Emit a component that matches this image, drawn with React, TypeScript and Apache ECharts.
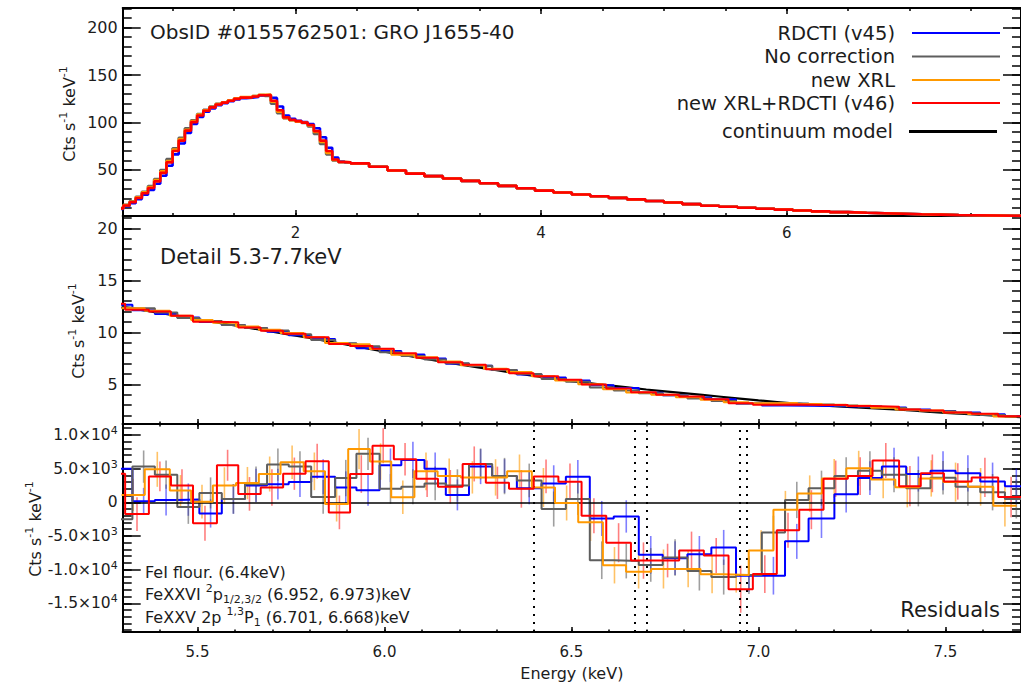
import React, { useEffect, useRef } from 'react';
import * as echarts from 'echarts';

// ---------------- tick labels ----------------
const topXTicks = [2, 4, 6];
const topXLabels = ['2', '4', '6'];
const detailXTicks = [5.5, 6.0, 6.5, 7.0, 7.5];
const detailXLabels = ['5.5', '6.0', '6.5', '7.0', '7.5'];
const topYTicks = [50, 100, 150, 200];
const topYLabels = ['50', '100', '150', '200'];
const midYTicks = [5, 10, 15, 20];
const midYLabels = ['5', '10', '15', '20'];
const resYTicks = [10000, 5000, 0, -5000, -10000, -15000];
const resYMantissa = ['1.0', '5.0', '0', '-5.0', '-1.0', '-1.5'];
const resYExponent = ['4', '3', '', '3', '4', '4'];

// ---------------- full band spectrum (top panel) ----------------
const topEdges = [
  0.55, 0.60, 0.65, 0.70, 0.75, 0.80, 0.85, 0.90, 0.95, 1.00, 1.05, 1.10, 1.15, 1.20, 1.25, 1.30,
  1.35, 1.40, 1.45, 1.50, 1.55, 1.60, 1.65, 1.70, 1.75, 1.80, 1.85, 1.90, 1.95, 2.00, 2.05, 2.10,
  2.15, 2.20, 2.25, 2.30, 2.35, 2.40, 2.45,
  2.60, 2.75, 2.90, 3.05, 3.20, 3.35, 3.50, 3.65, 3.80, 3.95, 4.10, 4.25, 4.40, 4.55, 4.70, 4.85,
  5.00, 5.15, 5.30, 5.45, 5.60, 5.75, 5.90, 6.05, 6.20, 6.35, 6.50, 6.65, 6.80, 6.95, 7.10, 7.25,
  7.40, 7.55, 7.70, 7.85, 8.00,
];
const topRiseBlue = [
  9, 11.8, 15, 19.3, 24, 29, 35.5, 44, 54.5, 66.5, 78, 89, 98.5, 106, 111.5, 115, 118.3, 120.5,
  122.5, 124.5, 125.8, 126.3, 127, 128.5, 129, 126, 117, 107.5, 104, 102, 100.5, 98.5, 94, 84.5,
  73.5, 63, 59, 58,
];
const topRiseGray = [
  10, 13.2, 17, 21.8, 27, 33, 40.5, 50, 61.5, 73, 84, 94, 102.5, 109, 113.5, 117, 119.8, 121.5,
  123.5, 125.5, 126.5, 126.8, 128, 129, 128, 120, 110, 104.5, 102.5, 101, 99.5, 96, 88, 77.5,
  66.5, 60, 58.3, 58,
];
const topRiseOrange = [
  9.8, 13, 16.5, 21.2, 26.5, 32, 39.5, 48.5, 59.5, 71.5, 82.5, 92.5, 101.5, 108.5, 113, 116.5,
  119.5, 121.5, 123.5, 125.5, 126.8, 127, 128, 129.3, 129.5, 122, 111.5, 105, 102.5, 101, 99.8,
  97, 90, 79.5, 68, 60.5, 58.5, 58,
];
const topRiseRed = [
  9.5, 12.5, 16, 20.5, 25.5, 31, 38, 47, 58, 70, 81, 91.5, 100.5, 107.5, 112.5, 116, 119, 121,
  123, 125, 126.3, 126.5, 127.5, 128.8, 129, 123, 113, 105.5, 103, 101.5, 100, 97.5, 91, 81, 70,
  61, 58.5, 58,
];
const topTail = [
  57, 53.5, 49.5, 46.2, 43.5, 41, 38.5, 36, 33.3, 30.8, 28.3, 26.2, 24.2, 22.3, 20.6, 19, 17.3,
  15.7, 14, 12.3, 11.2, 10.2, 9.2, 8.2, 7.3, 6.4, 5.6, 4.9, 4.4, 3.9, 3.4, 3.0, 2.6, 2.3, 2.0, 1.7,
  1.4,
];

// ---------------- detail band 5.3-7.7 keV ----------------
const blueEdges = [
  5.266, 5.326, 5.386, 5.446, 5.505, 5.565, 5.627, 5.686, 5.744, 5.804, 5.868, 5.925, 5.987, 6.045,
  6.107, 6.164, 6.226, 6.288, 6.354, 6.420, 6.485, 6.549, 6.613, 6.680, 6.744, 6.810, 6.874, 6.940,
  7.009, 7.071, 7.134, 7.203, 7.266, 7.330, 7.395, 7.460, 7.527, 7.593, 7.659, 7.720,
];
const grayEdges = [
  5.266, 5.326, 5.386, 5.446, 5.505, 5.565, 5.627, 5.686, 5.744, 5.804, 5.868, 5.925, 5.987, 6.045,
  6.107, 6.164, 6.226, 6.288, 6.354, 6.420, 6.485, 6.549, 6.613, 6.680, 6.744, 6.810, 6.874, 6.940,
  7.009, 7.071, 7.134, 7.203, 7.266, 7.330, 7.395, 7.460, 7.527, 7.593, 7.659, 7.720,
];
const orangeEdges = [
  5.297, 5.359, 5.426, 5.483, 5.541, 5.603, 5.664, 5.722, 5.784, 5.841, 5.903, 5.961, 6.018, 6.080,
  6.142, 6.204, 6.266, 6.328, 6.394, 6.456, 6.518, 6.584, 6.646, 6.713, 6.779, 6.845, 6.907, 6.974,
  7.040, 7.104, 7.170, 7.235, 7.301, 7.366, 7.430, 7.494, 7.560, 7.628, 7.690,
];
const redEdges = [
  5.247, 5.3065, 5.370, 5.429, 5.488, 5.552, 5.609, 5.669, 5.729, 5.789, 5.851, 5.908, 5.968, 6.025,
  6.085, 6.143, 6.209, 6.271, 6.333, 6.399, 6.465, 6.527, 6.593, 6.659, 6.726, 6.788, 6.854, 6.920,
  6.985, 7.049, 7.109, 7.174, 7.239, 7.305, 7.376, 7.434, 7.496, 7.570, 7.641, 7.710,
];

const blueRate = [
  12.65, 12.12, 11.76, 11.41, 10.98, 10.69, 10.40, 10.06, 9.72, 9.35, 8.90, 8.47, 8.19, 7.86, 7.47,
  6.97, 6.78, 6.37, 5.94, 5.64, 5.36, 4.90, 4.64, 4.19, 3.94, 3.73, 3.55, 3.16, 2.95, 2.94, 2.90,
  2.87, 2.83, 2.76, 2.58, 2.44, 2.28, 2.11, 1.95,
];
const grayRate = [
  12.38, 12.30, 11.89, 11.38, 11.09, 10.69, 10.41, 10.16, 9.80, 9.25, 8.95, 8.66, 8.07, 7.72, 7.39,
  7.02, 6.79, 6.37, 5.98, 5.51, 5.25, 4.68, 4.41, 4.14, 3.94, 3.64, 3.39, 3.16, 3.17, 3.15, 3.05,
  2.97, 2.87, 2.71, 2.50, 2.40, 2.21, 2.05, 1.89,
];
const orangeRate = [
  12.32, 12.07, 11.58, 11.18, 10.91, 10.55, 10.24, 9.94, 9.53, 8.97, 8.86, 8.38, 7.84, 7.59, 7.20,
  6.84, 6.50, 6.17, 5.76, 5.37, 5.00, 4.51, 4.22, 3.99, 3.76, 3.51, 3.28, 3.18, 3.19, 3.11, 3.02,
  2.94, 2.75, 2.58, 2.47, 2.29, 2.14, 1.91,
];
const redRate = [
  12.74, 12.16, 11.99, 11.59, 11.02, 10.96, 10.46, 10.14, 9.85, 9.53, 8.88, 8.68, 8.41, 7.99, 7.54,
  7.12, 6.88, 6.44, 6.06, 5.77, 5.43, 4.99, 4.59, 4.23, 4.00, 3.83, 3.57, 3.17, 3.03, 3.06, 3.01,
  3.01, 2.90, 2.84, 2.57, 2.49, 2.29, 2.17, 1.93,
];

const modelE = [
  5.3, 5.4, 5.5, 5.6, 5.7, 5.8, 5.9, 6.0, 6.1, 6.2, 6.3, 6.4, 6.5, 6.6, 6.7, 6.8, 6.9, 7.0, 7.1, 7.2,
  7.3, 7.4, 7.5, 7.6, 7.7,
];
const modelRate = [
  12.45, 11.85, 11.25, 10.65, 10.05, 9.45, 8.8, 8.13, 7.5, 6.9, 6.35, 5.8, 5.3, 4.9, 4.5, 4.15, 3.8,
  3.45, 3.15, 2.9, 2.7, 2.5, 2.25, 2.05, 1.85,
];

const blueRes = [
  5000, 150, 350, 400, -1650, 500, 2500, 2700, 3000, 3800, 2200, 1800, 5500, 6300, 5000, 1100, 5300,
  3900, 2100, 2800, 3800, -2400, -2100, -7800, -8300, -7700, -6700, -10900, -10900, -5800, -2400,
  1200, 3600, 5300, 4200, 4700, 4300, 3100, 2400,
];
const grayRes = [
  -2500, 5300, 4100, -700, 1400, 500, 2700, 5600, 5300, 800, 3600, 7200, 2000, 2300, 2800, 2500,
  5700, 3900, 3250, -1000, 500, -8600, -8700, -9300, -8200, -10200, -11100, -10800, -4500, 350, 2100,
  3900, 4700, 4100, 2100, 3650, 2300, 1500, 500,
];
const orangeRes = [
  1100, 4900, 1750, 100, 2500, 2850, 4200, 5950, 4600, -250, 7900, 6050, 750, 4600, 3900, 3700, 3700,
  4600, 2200, -100, -2950, -9350, -10300, -9900, -9900, -10700, -10800, -7150, -1100, 1300, 3550,
  5050, 3400, 2250, 3550, 3000, 2300, -500,
];
const redRes = [
  4250, -1750, 3850, 2500, -3100, 5500, 1250, 2200, 4250, 6100, -1500, 4200, 8400, 6400, 3500, 2300,
  5700, 2900, 2000, 3850, 3050, -2000, -6000, -8650, -8650, -7150, -7900, -12900, -10650, -4150,
  -1100, 3500, 3900, 6200, 2400, 4300, 3100, 3700, 800,
];

const blueErr = [
  2100, 2000, 2300, 2400, 2100, 2200, 2500, 2300, 2200, 2600, 2400, 2300, 2500, 2700, 2400, 2300,
  2600, 2500, 2400, 2700, 2500, 2600, 2400, 2800, 2500, 2700, 2600, 2400, 2800, 2600, 2900, 2700,
  2500, 2800, 2600, 2900, 2700, 2800, 2600,
];
const grayErr = [
  2200, 2400, 2100, 2500, 2300, 2200, 2600, 2400, 2300, 2500, 2700, 2400, 2200, 2600, 2500, 2400,
  2300, 2700, 2500, 2600, 2400, 2800, 2600, 2500, 2700, 2900, 2600, 2800, 2500, 2700, 2600, 2800,
  2900, 2600, 2700, 2500, 2800, 2700, 2900,
];
const orangeErr = [
  2400, 2600, 2300, 2500, 2700, 2400, 2600, 2500, 2800, 2600, 3000, 2700, 2500, 2800, 2600, 2400,
  2700, 2500, 2900, 2600, 2800, 2700, 2500, 2900, 2700, 2800, 2600, 3000, 2800, 2700, 2900, 2600,
  2800, 3000, 2700, 2900, 2800, 3100,
];
const redErr = [
  2300, 2500, 2200, 2400, 2600, 2300, 2500, 2700, 2400, 2600, 2500, 2800, 2600, 2400, 2700, 2500,
  2600, 2400, 2800, 2500, 2700, 2600, 2900, 2700, 2500, 2800, 2600, 3500, 2800, 2600, 2900, 2700,
  2800, 2600, 3000, 2800, 2700, 2900, 3000,
];

const lineEnergies = [6.4, 6.668, 6.701, 6.952, 6.973];

const legendNames = ['RDCTI (v45)', 'No correction', 'new XRL', 'new XRL+RDCTI (v46)', 'continuum model'];

// ---------------- styling ----------------
const FONT = 'DejaVu Sans';
const TXT = '#1c1c1c';
const C_BLUE = '#0000ff';
const C_GRAY = '#5e5e5e';
const C_ORANGE = '#ff9900';
const C_RED = '#ff0000';
const E_BLUE = 'rgba(0,0,255,0.5)';
const E_GRAY = 'rgba(80,80,80,0.55)';
const E_ORANGE = 'rgba(255,153,0,0.6)';
const E_RED = 'rgba(255,0,0,0.5)';

const GL = 122.7;
const GW = 905;
const GH = 208;
const GT = [8, 216, 424];

const tickRange = (a: number, b: number, s: number) => {
  const out: number[] = [];
  const n = Math.round((b - a) / s);
  for (let i = 0; i <= n; i++) out.push(Math.round((a + i * s) * 1e6) / 1e6);
  return out;
};
const topXMinor = tickRange(1.0, 7.5, 0.5);
const topYMinor = tickRange(10, 220, 10);
const midYMinor = tickRange(2, 21, 1);
const resYMinor = tickRange(-19000, 11000, 1000);
const detailXMinor = tickRange(5.3, 7.7, 0.1);

const idx = (arr: number[], v: number) => arr.findIndex((a) => Math.abs(a - v) < 1e-9);

const stepData = (edges: number[], vals: number[]) => {
  const d = vals.map((v, i) => [edges[i], v]);
  d.push([edges[vals.length], vals[vals.length - 1]]);
  return d;
};
const barData = (edges: number[], vals: number[], errs: number[]) =>
  vals.map((v, i) => [(edges[i] + edges[i + 1]) / 2, v, errs[i]]);

const axisLine = (show: boolean) => ({
  show,
  onZero: false,
  lineStyle: { color: '#000', width: 2 },
});
const tick = (values: number[], len: number) => ({
  show: true,
  inside: true,
  length: len,
  customValues: values,
  lineStyle: { color: '#000', width: 1.5 },
});

function mkAxis(
  gridIndex: number,
  min: number,
  max: number,
  position: string,
  ticks: number[],
  len: number,
  showLine: boolean,
  label?: any,
  extra?: any,
) {
  return {
    type: 'value',
    gridIndex,
    min,
    max,
    position,
    silent: true,
    axisLine: axisLine(showLine),
    axisTick: tick(ticks, len),
    axisLabel: label ? { show: true, customValues: ticks, ...label } : { show: false },
    splitLine: { show: false },
    minorTick: { show: false },
    minorSplitLine: { show: false },
    axisPointer: { show: false },
    ...(extra || {}),
  };
}

const TOPX = [0.594, 7.907];
const DETX = [5.3, 7.702];
const TOPY = [1.5, 220.8];
const MIDY = [1.18, 21.18];
const RESY = [-19260, 11630];

const labelBase = { fontFamily: FONT, color: TXT };

const xAxes = [
  // grid 0
  mkAxis(0, TOPX[0], TOPX[1], 'bottom', topXTicks, 6, true, {
    ...labelBase,
    fontSize: 15,
    margin: 9,
    formatter: (v: number) => topXLabels[idx(topXTicks, v)] ?? '',
  }),
  mkAxis(0, TOPX[0], TOPX[1], 'bottom', topXMinor, 3, false),
  mkAxis(0, TOPX[0], TOPX[1], 'top', topXTicks, 6, true),
  mkAxis(0, TOPX[0], TOPX[1], 'top', topXMinor, 3, false),
  // grid 1
  mkAxis(1, DETX[0], DETX[1], 'bottom', detailXTicks, 5, true),
  mkAxis(1, DETX[0], DETX[1], 'bottom', detailXMinor, 2.5, false),
  // grid 2
  mkAxis(2, DETX[0], DETX[1], 'top', detailXTicks, 5, true),
  mkAxis(2, DETX[0], DETX[1], 'top', detailXMinor, 2.5, false),
  mkAxis(
    2,
    DETX[0],
    DETX[1],
    'bottom',
    detailXTicks,
    5,
    true,
    {
      ...labelBase,
      fontSize: 15,
      margin: 12,
      formatter: (v: number) => detailXLabels[idx(detailXTicks, v)] ?? '',
    },
    {
      name: 'Energy (keV)',
      nameLocation: 'middle',
      nameGap: 33,
      nameTextStyle: { fontFamily: FONT, fontSize: 16, color: TXT },
    },
  ),
  mkAxis(2, DETX[0], DETX[1], 'bottom', detailXMinor, 2.5, false),
];

const yAxes = [
  // grid 0
  mkAxis(0, TOPY[0], TOPY[1], 'left', topYTicks, 18, true, {
    ...labelBase,
    fontSize: 16,
    margin: 5,
    formatter: (v: number) => topYLabels[idx(topYTicks, v)] ?? '',
  }),
  mkAxis(0, TOPY[0], TOPY[1], 'left', topYMinor, 9, false),
  mkAxis(0, TOPY[0], TOPY[1], 'right', topYTicks, 18, true),
  mkAxis(0, TOPY[0], TOPY[1], 'right', topYMinor, 9, false),
  // grid 1
  mkAxis(1, MIDY[0], MIDY[1], 'left', midYTicks, 18, true, {
    ...labelBase,
    fontSize: 16,
    margin: 5,
    formatter: (v: number) => midYLabels[idx(midYTicks, v)] ?? '',
  }),
  mkAxis(1, MIDY[0], MIDY[1], 'left', midYMinor, 9, false),
  mkAxis(1, MIDY[0], MIDY[1], 'right', midYTicks, 18, true),
  mkAxis(1, MIDY[0], MIDY[1], 'right', midYMinor, 9, false),
  // grid 2
  mkAxis(2, RESY[0], RESY[1], 'left', resYTicks, 18, true, {
    ...labelBase,
    fontSize: 15.5,
    margin: 5,
    formatter: (v: number) => {
      const i = idx(resYTicks, v);
      if (i < 0) return '';
      return resYExponent[i]
        ? `{m|${resYMantissa[i]}×10}{e|${resYExponent[i]}}`
        : `{m|${resYMantissa[i]}}`;
    },
    rich: {
      m: { fontFamily: FONT, fontSize: 15.5, color: TXT, lineHeight: 20 },
      e: { fontFamily: FONT, fontSize: 11, color: TXT, lineHeight: 11, verticalAlign: 'top' },
    },
  }),
  mkAxis(2, RESY[0], RESY[1], 'left', resYMinor, 9, false),
  mkAxis(2, RESY[0], RESY[1], 'right', resYTicks, 18, true),
  mkAxis(2, RESY[0], RESY[1], 'right', resYMinor, 9, false),
];

const stepSeries = (name: string, data: any, color: string, width: number, xi: number, yi: number, z: number) => ({
  name,
  type: 'line',
  step: 'end',
  data,
  xAxisIndex: xi,
  yAxisIndex: yi,
  symbol: 'none',
  showSymbol: false,
  clip: true,
  silent: true,
  z,
  lineStyle: { color, width },
});

const errSeries = (data: any, color: string, z: number) => ({
  type: 'custom',
  xAxisIndex: 8,
  yAxisIndex: 8,
  clip: true,
  silent: true,
  z,
  encode: { x: 0, y: 1 },
  data,
  renderItem: (_p: any, api: any) => {
    const x = api.value(0);
    const y = api.value(1);
    const e = api.value(2);
    const a = api.coord([x, y - e]);
    const b = api.coord([x, y + e]);
    return {
      type: 'line',
      shape: { x1: a[0], y1: a[1], x2: b[0], y2: b[1] },
      style: { stroke: color, lineWidth: 1.6 },
    };
  },
});

const richName = {
  n: { fontFamily: FONT, fontSize: 16, fill: TXT, color: TXT, lineHeight: 22 },
  e: { fontFamily: FONT, fontSize: 11, fill: TXT, color: TXT, lineHeight: 11, verticalAlign: 'top' },
  b: { fontFamily: FONT, fontSize: 11, fill: TXT, color: TXT, lineHeight: 11, verticalAlign: 'bottom' },
};

const txt = (x: number, y: number, text: string, size: number, align: string, extra?: any) => ({
  type: 'text',
  x,
  y,
  silent: true,
  z: 100,
  ...(extra || {}),
  style: {
    text,
    fill: TXT,
    font: `${size}px "${FONT}"`,
    fontFamily: FONT,
    fontSize: size,
    align,
    textAlign: align,
    verticalAlign: 'middle',
    textVerticalAlign: 'middle',
    ...(extra && extra.styleExtra ? extra.styleExtra : {}),
  },
});

const yName = (x: number, y: number) =>
  txt(x, y, '{n|Cts s}{e|-1}{n| keV}{e|-1}', 16, 'center', {
    rotation: Math.PI / 2,
    styleExtra: { rich: richName },
  });

const legendColors = [C_BLUE, C_GRAY, C_ORANGE, C_RED, '#000'];
const legendY = [33, 56.5, 80, 103, 131.5];

function buildOption() {
  const topSeries = [
    stepSeries(legendNames[0], stepData(topEdges, [...topRiseBlue, ...topTail]), C_BLUE, 2.6, 0, 0, 2),
    stepSeries(legendNames[1], stepData(topEdges, [...topRiseGray, ...topTail]), C_GRAY, 2.6, 0, 0, 3),
    stepSeries(legendNames[2], stepData(topEdges, [...topRiseOrange, ...topTail]), C_ORANGE, 2.6, 0, 0, 4),
    stepSeries(legendNames[3], stepData(topEdges, [...topRiseRed, ...topTail]), C_RED, 2.6, 0, 0, 5),
  ];
  const midSeries = [
    {
      name: legendNames[4],
      type: 'line',
      data: modelE.map((e, i) => [e, modelRate[i]]),
      xAxisIndex: 4,
      yAxisIndex: 4,
      symbol: 'none',
      smooth: 0.3,
      clip: true,
      silent: true,
      z: 2,
      lineStyle: { color: '#000', width: 2.2 },
    },
    stepSeries(legendNames[0], stepData(blueEdges, blueRate), C_BLUE, 2, 4, 4, 3),
    stepSeries(legendNames[1], stepData(grayEdges, grayRate), C_GRAY, 2, 4, 4, 4),
    stepSeries(legendNames[2], stepData(orangeEdges, orangeRate), C_ORANGE, 2, 4, 4, 5),
    stepSeries(legendNames[3], stepData(redEdges, redRate), C_RED, 2, 4, 4, 6),
  ];
  const resSeries = [
    errSeries(barData(blueEdges, blueRes, blueErr), E_BLUE, 2),
    errSeries(barData(grayEdges, grayRes, grayErr), E_GRAY, 2),
    errSeries(barData(orangeEdges, orangeRes, orangeErr), E_ORANGE, 2),
    errSeries(barData(redEdges, redRes, redErr), E_RED, 2),
    {
      ...stepSeries(legendNames[0], stepData(blueEdges, blueRes), C_BLUE, 2, 8, 8, 3),
      markLine: {
        silent: true,
        symbol: 'none',
        animation: false,
        label: { show: false },
        lineStyle: { color: '#000', width: 2, type: [2, 6] },
        data: [
          ...lineEnergies.map((e) => ({ xAxis: e })),
          { yAxis: 0, lineStyle: { color: '#000', width: 1.5, type: 'solid' } },
        ],
      },
    },
    stepSeries(legendNames[1], stepData(grayEdges, grayRes), C_GRAY, 2, 8, 8, 4),
    stepSeries(legendNames[2], stepData(orangeEdges, orangeRes), C_ORANGE, 2, 8, 8, 5),
    stepSeries(legendNames[3], stepData(redEdges, redRes), C_RED, 2, 8, 8, 6),
  ];

  const graphics: any[] = [
    txt(150, 32, 'ObsID #0155762501: GRO J1655-40', 20, 'left'),
    txt(160, 257, 'Detail 5.3-7.7keV', 21, 'left'),
    txt(1000, 610, 'Residuals', 21, 'right'),
    txt(145, 572, '{n|FeI flour. (6.4keV)}', 16.5, 'left', { styleExtra: { rich: richName } }),
    txt(145, 594, '{n|FeXXVI }{e|2}{n|p}{b|1/2,3/2}{n| (6.952, 6.973)keV}', 16.5, 'left', {
      styleExtra: { rich: richName },
    }),
    txt(145, 617, '{n|FeXXV 2p }{e|1,3}{n|P}{b|1}{n| (6.701, 6.668)keV}', 16.5, 'left', {
      styleExtra: { rich: richName },
    }),
    yName(69, 114),
    yName(78, 331),
    yName(35, 529),
  ];
  legendNames.forEach((n, i) => {
    const last = i === legendNames.length - 1;
    graphics.push(txt(last ? 893 : 895, legendY[i], n, 19.5, 'right'));
    graphics.push({
      type: 'line',
      silent: true,
      z: 100,
      shape: { x1: last ? 909 : 912, y1: legendY[i], x2: last ? 997 : 1000, y2: legendY[i] },
      style: { stroke: legendColors[i], lineWidth: last ? 3 : 2 },
    });
  });

  return {
    animation: false,
    backgroundColor: '#ffffff',
    textStyle: { fontFamily: FONT },
    grid: GT.map((t) => ({ left: GL, top: t, width: GW, height: GH, containLabel: false })),
    xAxis: xAxes,
    yAxis: yAxes,
    series: [...topSeries, ...midSeries, ...resSeries],
    graphic: { elements: graphics },
  };
}

export default function App() {
  const ref = useRef<HTMLDivElement>(null);
  useEffect(() => {
    if (!ref.current) return;
    const chart = echarts.init(ref.current, undefined, { renderer: 'svg' });
    chart.setOption(buildOption() as any);
    return () => chart.dispose();
  }, []);
  return (
    <div
      ref={ref}
      style={{ position: 'fixed', left: 0, top: 0, width: 1021, height: 683, background: '#fff' }}
    />
  );
}
